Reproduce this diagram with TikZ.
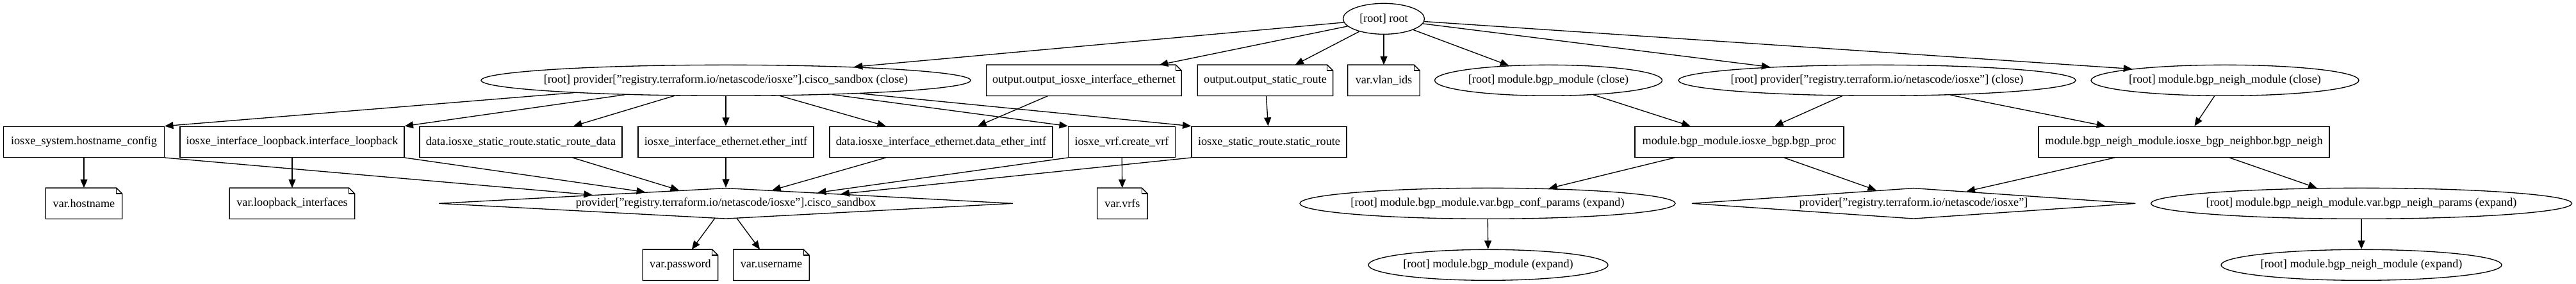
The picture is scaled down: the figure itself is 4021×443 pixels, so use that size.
\documentclass[tikz,border=0pt]{standalone}
\usepackage{fontspec}
\setmainfont{Liberation Serif}
\usetikzlibrary{shapes.geometric,arrows.meta,calc}
\newcommand\zt[1]{\makebox[0pt]{#1}}
\tikzset{
  every node/.style={font=\fontsize{18.2pt}{22pt}\selectfont},
  gv/.style={line width=1.33pt},
  rbox/.style={gv, rectangle, draw, minimum height=48pt, inner sep=0pt},
  ell/.style={gv, ellipse, draw, minimum height=48pt, inner sep=0pt},
  notebox/.style={rectangle, minimum height=48pt, inner sep=0pt},
  dia/.style={gv, diamond, draw, minimum height=48pt, inner sep=0pt},
  edge/.style={gv, -{Triangle[length=13.33pt,width=11pt]}},
}
\newcommand\notefold[1]{%
  \draw[gv] (#1.south west) -- (#1.north west) -- ([xshift=-9pt]#1.north east)
    -- ([yshift=-9pt]#1.north east) -- (#1.south east) -- cycle;
  \draw[gv] ([xshift=-9pt]#1.north east) -- ([xshift=-9pt,yshift=-9pt]#1.north east)
    -- ([yshift=-9pt]#1.north east);}
\begin{document}
\begin{tikzpicture}[x=1pt,y=-1pt]
\useasboundingbox (0,0) rectangle (4021,443);
% row 0
\node[ell, minimum width=127pt] (root) at (2160,29.33) {\zt{[root] root}};
% row 1
\node[ell, minimum width=764pt] (provclose) at (1133,125.33) {\zt{[root] provider["registry.terraform.io/netascode/iosxe"].cisco\_sandbox (close)}};
\node[notebox, minimum width=304pt] (outeth) at (1692,125.33) {\zt{output.output\_iosxe\_interface\_ethernet}};
\node[notebox, minimum width=211pt] (outstatic) at (1975,125.33) {\zt{output.output\_static\_route}};
\node[notebox, minimum width=112pt] (vlan) at (2160,125.33) {\zt{var.vlan\_ids}};
\node[ell, minimum width=355pt] (bgpclose) at (2417,125.33) {\zt{[root] module.bgp\_module (close)}};
\node[ell, minimum width=620pt] (provxeclose) at (2930,125.33) {\zt{[root] provider["registry.terraform.io/netascode/iosxe"] (close)}};
\node[ell, minimum width=418pt] (neighclose) at (3473,125.33) {\zt{[root] module.bgp\_neigh\_module (close)}};
% row 2
\node[rbox, minimum width=251pt] (hostname) at (131,221.33) {\zt{iosxe\_system.hostname\_config}};
\node[rbox, minimum width=350pt] (loopback) at (456,221.33) {\zt{iosxe\_interface\_loopback.interface\_loopback}};
\node[rbox, minimum width=316pt] (staticdata) at (813,221.33) {\zt{data.iosxe\_static\_route.static\_route\_data}};
\node[rbox, minimum width=274pt] (etherintf) at (1133,221.33) {\zt{iosxe\_interface\_ethernet.ether\_intf}};
\node[rbox, minimum width=348pt] (dataether) at (1469,221.33) {\zt{data.iosxe\_interface\_ethernet.data\_ether\_intf}};
\node[rbox, minimum width=167pt] (vrf) at (1751,221.33) {\zt{iosxe\_vrf.create\_vrf}};
\node[rbox, minimum width=242pt] (staticroute) at (1981,221.33) {\zt{iosxe\_static\_route.static\_route}};
\node[rbox, minimum width=326pt] (bgpproc) at (2715,221.33) {\zt{module.bgp\_module.iosxe\_bgp.bgp\_proc}};
\node[rbox, minimum width=454pt] (bgpneigh) at (3409,221.33) {\zt{module.bgp\_neigh\_module.iosxe\_bgp\_neighbor.bgp\_neigh}};
% row 3
\node[notebox, minimum width=119pt] (varhost) at (131,317.33) {\zt{var.hostname}};
\node[notebox, minimum width=195pt] (varloop) at (456,317.33) {\zt{var.loopback\_interfaces}};
\node[dia, minimum width=896pt, label={center:provider["registry.terraform.io/netascode/iosxe"].cisco\_sandbox}] (sandbox) at (1133,317.33) {};
\node[notebox, minimum width=78pt] (varvrfs) at (1752,317.33) {\zt{var.vrfs}};
\node[ell, minimum width=586pt] (confparams) at (2322,317.33) {\zt{[root] module.bgp\_module.var.bgp\_conf\_params (expand)}};
\node[dia, minimum width=693pt, label={center:provider["registry.terraform.io/netascode/iosxe"]}] (provxe) at (2987,317.33) {};
\node[ell, minimum width=657pt] (neighparams) at (3686,317.33) {\zt{[root] module.bgp\_neigh\_module.var.bgp\_neigh\_params (expand)}};
% row 4
\node[notebox, minimum width=117pt] (password) at (1062,413.33) {\zt{var.password}};
\node[notebox, minimum width=118pt] (username) at (1204,413.33) {\zt{var.username}};
\node[ell, minimum width=374pt] (bgpexpand) at (2323,413.33) {\zt{[root] module.bgp\_module (expand)}};
\node[ell, minimum width=438pt] (neighexpand) at (3686,413.33) {\zt{[root] module.bgp\_neigh\_module (expand)}};
% note outlines
\foreach \n in {outeth,outstatic,vlan,varhost,varloop,varvrfs,password,username} {\notefold{\n}}
% edges from root
\draw[edge] (root) -- (provclose.6);
\draw[edge] (root) -- (outeth);
\draw[edge] (root) -- (outstatic);
\draw[edge] (root) -- (vlan);
\draw[edge] (root) -- (bgpclose);
\draw[edge] (root) -- (provxeclose);
\draw[edge] (root) -- (neighclose.173);
% provider close (cisco_sandbox)
\draw[edge] (provclose) -- (hostname.north east);
\draw[edge] (provclose) -- (loopback.north east);
\draw[edge] (provclose) -- (staticdata);
\draw[edge] (provclose) -- (etherintf);
\draw[edge] (provclose) -- (dataether);
\draw[edge] (provclose) -- (vrf.north west);
\draw[edge] (provclose) -- (staticroute.north west);
% outputs
\draw[edge] (outeth) -- (dataether);
\draw[edge] (outstatic) -- (staticroute);
% resources
\draw[edge] (hostname) -- (varhost);
\draw[edge] (hostname.south east) -- ($(sandbox.west)!0.536!(sandbox.north)$);
\draw[edge] (loopback) -- (varloop);
\draw[edge] (loopback.south east) -- ($(sandbox.west)!0.719!(sandbox.north)$);
\draw[edge] (staticdata) -- ($(sandbox.west)!0.837!(sandbox.north)$);
\draw[edge] (etherintf) -- (sandbox);
\draw[edge] (dataether) -- (sandbox);
\draw[edge] (vrf.south west) -- ($(sandbox.north)!0.319!(sandbox.east)$);
\draw[edge] (staticroute.south west) -- ($(sandbox.north)!0.4!(sandbox.east)$);
\draw[edge] (vrf) -- (varvrfs);
\draw[edge] (sandbox) -- (password);
\draw[edge] (sandbox) -- (username);
% bgp side
\draw[edge] (bgpclose) -- (bgpproc);
\draw[edge] (provxeclose) -- (bgpproc);
\draw[edge] (provxeclose) -- (bgpneigh);
\draw[edge] (neighclose) -- (bgpneigh);
\draw[edge] (bgpproc) -- (confparams);
\draw[edge] (bgpproc) -- (provxe);
\draw[edge] (bgpneigh) -- (provxe);
\draw[edge] (bgpneigh) -- (neighparams);
\draw[edge] (confparams) -- (bgpexpand);
\draw[edge] (neighparams) -- (neighexpand);
\end{tikzpicture}
\end{document}
